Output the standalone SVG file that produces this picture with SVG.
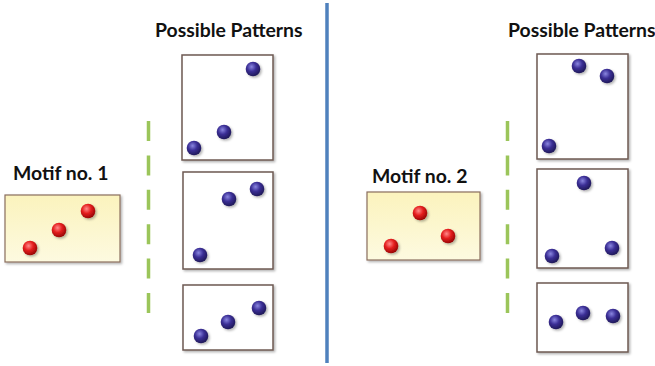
<svg xmlns="http://www.w3.org/2000/svg" width="655" height="366" viewBox="0 0 655 366">
  <defs>
    <radialGradient id="blueBall" cx="0.4" cy="0.35" r="0.7">
      <stop offset="0" stop-color="#8a86e0"/>
      <stop offset="0.45" stop-color="#3b2f96"/>
      <stop offset="1" stop-color="#1c1550"/>
    </radialGradient>
    <radialGradient id="redBall" cx="0.4" cy="0.35" r="0.7">
      <stop offset="0" stop-color="#ff8a8a"/>
      <stop offset="0.45" stop-color="#e51f1f"/>
      <stop offset="1" stop-color="#8e0000"/>
    </radialGradient>
    <linearGradient id="motifFill" x1="0" y1="0" x2="0" y2="1">
      <stop offset="0" stop-color="#fbf3bd"/>
      <stop offset="1" stop-color="#fdfae0"/>
    </linearGradient>
    <filter id="shadow" x="-20%" y="-20%" width="140%" height="140%">
      <feDropShadow dx="1.5" dy="1.5" stdDeviation="1" flood-color="#000" flood-opacity="0.3"/>
    </filter>
  </defs>
  <style>
    .title { font-family: Lato, "Liberation Sans", sans-serif; font-weight: bold; font-size: 19.4px; fill: #111; }
    .pattern { fill: #ffffff; stroke: #6e5a52; stroke-width: 1.5; filter: url(#shadow); }
    .motif { fill: url(#motifFill); stroke: #8a6e5e; stroke-width: 1.2; filter: url(#shadow); }
    .blue { fill: url(#blueBall); filter: url(#shadow); }
    .red { fill: url(#redBall); filter: url(#shadow); }
    .dash { stroke: #9bc55a; stroke-width: 3.5; stroke-dasharray: 20 14.4; fill: none; }
    .divider { stroke: #4f81bd; stroke-width: 3.5; }
  </style>

  <rect width="655" height="366" fill="#ffffff"/>

  <!-- separators -->
  <g id="connectors">
    <line class="divider" x1="327" y1="3" x2="327" y2="363"/>
    <line class="dash" x1="148.5" y1="121" x2="148.5" y2="314"/>
    <line class="dash" x1="507.5" y1="121" x2="507.5" y2="314"/>
  </g>

  <!-- left half -->
  <g id="title-left">
    <text class="title" x="155" y="37">Possible Patterns</text>
  </g>

  <g id="motif1">
    <text class="title" x="13" y="180">Motif no. 1</text>
    <rect class="motif" x="5" y="195" width="115" height="67"/>
    <circle class="red" cx="88" cy="211" r="7.3"/>
    <circle class="red" cx="59" cy="230" r="7.3"/>
    <circle class="red" cx="30" cy="248" r="7.3"/>
  </g>

  <g id="pattern1a">
    <rect class="pattern" x="182" y="55" width="91" height="105"/>
    <circle class="blue" cx="253" cy="69" r="7.3"/>
    <circle class="blue" cx="224" cy="132" r="7.3"/>
    <circle class="blue" cx="194" cy="148" r="7.3"/>
  </g>

  <g id="pattern1b">
    <rect class="pattern" x="183" y="172" width="90" height="97"/>
    <circle class="blue" cx="229" cy="199" r="7.3"/>
    <circle class="blue" cx="257" cy="189" r="7.3"/>
    <circle class="blue" cx="200" cy="255" r="7.3"/>
  </g>

  <g id="pattern1c">
    <rect class="pattern" x="183" y="285" width="90" height="65"/>
    <circle class="blue" cx="259" cy="308" r="7.3"/>
    <circle class="blue" cx="228" cy="322" r="7.3"/>
    <circle class="blue" cx="201" cy="336" r="7.3"/>
  </g>

  <!-- right half -->
  <g id="title-right">
    <text class="title" x="508" y="37">Possible Patterns</text>
  </g>

  <g id="motif2">
    <text class="title" x="372" y="183">Motif no. 2</text>
    <rect class="motif" x="367" y="192" width="113" height="68"/>
    <circle class="red" cx="420" cy="213" r="7.3"/>
    <circle class="red" cx="448" cy="236" r="7.3"/>
    <circle class="red" cx="391" cy="246" r="7.3"/>
  </g>

  <g id="pattern2a">
    <rect class="pattern" x="537" y="54" width="91" height="105"/>
    <circle class="blue" cx="579" cy="66" r="7.3"/>
    <circle class="blue" cx="607" cy="76" r="7.3"/>
    <circle class="blue" cx="549" cy="146" r="7.3"/>
  </g>

  <g id="pattern2b">
    <rect class="pattern" x="537" y="169" width="91" height="99"/>
    <circle class="blue" cx="584" cy="183" r="7.3"/>
    <circle class="blue" cx="612" cy="248" r="7.3"/>
    <circle class="blue" cx="552" cy="256" r="7.3"/>
  </g>

  <g id="pattern2c">
    <rect class="pattern" x="537" y="283" width="91" height="69"/>
    <circle class="blue" cx="556" cy="322" r="7.3"/>
    <circle class="blue" cx="583" cy="313" r="7.3"/>
    <circle class="blue" cx="613" cy="316" r="7.3"/>
  </g>
</svg>
